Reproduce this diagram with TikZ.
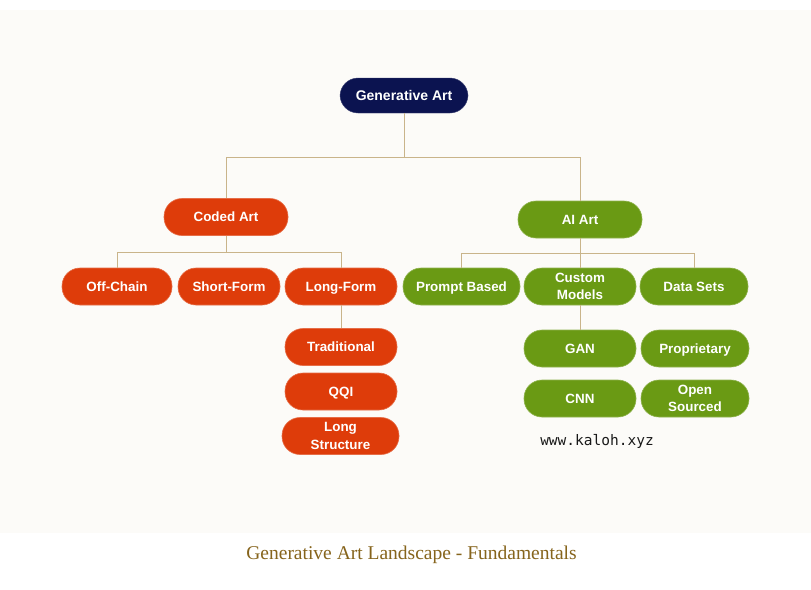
\documentclass[tikz,border=0pt]{standalone}
\usepackage{fontspec}
\setmainfont{Liberation Sans}
\newfontfamily\capfont{Liberation Serif}
\newfontfamily\monofont{DejaVu Sans Mono}
\definecolor{navy}{HTML}{0B1350}
\definecolor{redor}{HTML}{DE3C0A}
\definecolor{leaf}{HTML}{6A9A14}
\definecolor{tan}{HTML}{C9B48A}
\definecolor{cream}{HTML}{FCFBF8}
\definecolor{capcol}{HTML}{86641C}
\tikzset{
  pill/.style={rounded corners=18pt, inner sep=0pt, minimum height=37pt,
    text=white, font=\bfseries\fontsize{13.4}{17.5}\selectfont, align=center},
  one/.style={text height=9.6pt, text depth=0pt},
  rootpill/.style={pill, one, fill=navy, draw=navy!80, minimum width=128pt, minimum height=35pt, font=\bfseries\fontsize{14}{15}\selectfont},
  redpill/.style={pill, fill=redor, draw=redor!75!white, line width=0.6pt},
  greenpill/.style={pill, fill=leaf, draw=leaf!75!white, line width=0.6pt},
  conn/.style={draw=tan, line width=0.9pt},
}
\begin{document}
\begin{tikzpicture}[x=1pt,y=-1pt]
\useasboundingbox (0,0) rectangle (811,589);
\fill[white] (0,0) rectangle (811,589);
\fill[cream] (0,10) rectangle (811,533);
\coordinate (gbus) at (0,157);
\coordinate (cbus) at (0,252);
\coordinate (abus) at (0,253);
% nodes
\node[rootpill] (gen) at (404,95.5) {Generative Art};
\node[redpill, one, minimum width=124pt] (coded) at (226,217) {Coded Art};
\node[greenpill, one, minimum width=124pt] (ai) at (580,219.5) {AI Art};
\node[redpill, one, minimum width=110pt] (off) at (117,286.5) {Off-Chain};
\node[redpill, one, minimum width=102pt] (short) at (229,286.5) {Short-Form};
\node[redpill, one, minimum width=112pt] (long) at (341,286.5) {Long-Form};
\node[greenpill, one, minimum width=117pt] (prompt) at (461.5,286.5) {Prompt Based};
\node[greenpill, minimum width=112pt] (custom) at (580,286.5) {Custom\\Models};
\node[greenpill, one, minimum width=108pt] (data) at (694,286.5) {Data Sets};
\node[redpill, one, minimum width=112pt] (trad) at (341,347) {Traditional};
\node[redpill, one, minimum width=112pt] (qqi) at (341,391.5) {QQI};
\node[redpill, minimum width=117pt] (lstruct) at (340.5,436) {Long\\Structure};
\node[greenpill, one, minimum width=112pt] (gan) at (580,348.5) {GAN};
\node[greenpill, one, minimum width=108pt] (prop) at (695,348.5) {Proprietary};
\node[greenpill, one, minimum width=112pt] (cnn) at (580,398.5) {CNN};
\node[greenpill, minimum width=108pt] (open) at (695,398.5) {Open\\Sourced};
\node[font=\monofont\fontsize{14.5}{15}\selectfont, text=black!90, inner sep=0pt] (url) at (597,441) {www.kaloh.xyz};
\node[font=\capfont\fontsize{19.5}{21}\selectfont, text=capcol, inner sep=0pt] (cap) at (411.5,555) {Generative Art Landscape - Fundamentals};
% connectors
\draw[conn] (gen.south) -- (gen.south |- gbus);
\draw[conn] (coded.north) |- (ai.north |- gbus) -- (ai.north);
\draw[conn] (coded.south) -- (coded.south |- cbus);
\draw[conn] (off.north) |- (long.north |- cbus) -- (long.north);
\draw[conn] (ai.south) -- (custom.north);
\draw[conn] (prompt.north) |- (data.north |- abus) -- (data.north);
\draw[conn] (long.south) -- (trad.north);
\draw[conn] (custom.south) -- (gan.north);
\end{tikzpicture}
\end{document}
